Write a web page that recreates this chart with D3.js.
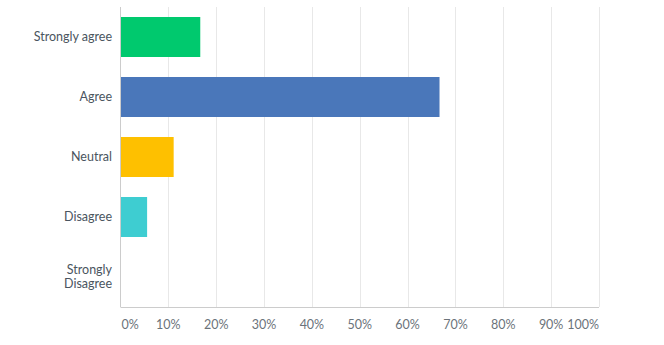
<!DOCTYPE html>
<html>
<head>
<meta charset="utf-8">
<script src="https://cdn.jsdelivr.net/npm/d3@7"></script>
<style>
  body { margin: 0; background: #fff; }
  svg text { font-family: Lato, sans-serif; }
</style>
</head>
<body>
<div id="chart"></div>
<script>
const categories = ["Strongly agree", "Agree", "Neutral", "Disagree", "Strongly Disagree"];
const values = [16.67, 66.67, 11.11, 5.56, 0];
const colors = ["#00c96e", "#4a77ba", "#fec000", "#3ecdd1", "#999999"];
const ticks = [0, 10, 20, 30, 40, 50, 60, 70, 80, 90, 100];

const width = 664,
    height = 345,
    margin = { top: 7, right: 65, bottom: 38, left: 120.5 };

const svg = d3
    .select("#chart")
    .append("svg")
    .attr("width", width)
    .attr("height", height);

const x = d3
    .scaleLinear()
    .domain([0, 100])
    .range([margin.left, width - margin.right]);

const y = d3
    .scaleBand()
    .domain(categories)
    .range([margin.top, height - margin.bottom])
    .paddingInner(1 / 3)
    .paddingOuter(1 / 6);

// gridlines
svg.append("g")
    .selectAll("line")
    .data(ticks.slice(1))
    .join("line")
    .attr("x1", (d) => Math.round(x(d)) + 0.5)
    .attr("x2", (d) => Math.round(x(d)) + 0.5)
    .attr("y1", margin.top)
    .attr("y2", height - margin.bottom)
    .attr("stroke", "#e8e8e8");

// bars
svg.append("g")
    .selectAll("rect")
    .data(values)
    .join("rect")
    .attr("x", x(0))
    .attr("y", (d, i) => y(categories[i]))
    .attr("width", (d) => x(d) - x(0))
    .attr("height", y.bandwidth())
    .attr("fill", (d, i) => colors[i]);

// axis lines
svg.append("line")
    .attr("x1", x(0)).attr("x2", x(0))
    .attr("y1", margin.top).attr("y2", height - margin.bottom)
    .attr("stroke", "#cccccc");
svg.append("line")
    .attr("x1", x(0)).attr("x2", x(100))
    .attr("y1", height - margin.bottom + 0.5).attr("y2", height - margin.bottom + 0.5)
    .attr("stroke", "#cccccc");

// x tick labels
svg.append("g")
    .selectAll("text")
    .data(ticks)
    .join("text")
    .attr("x", (d) => (d === 0 ? x(d) + 1 : x(d)))
    .attr("y", 329)
    .attr("text-anchor", (d) => (d === 0 ? "start" : d === 100 ? "end" : "middle"))
    .attr("font-size", "12.5px")
    .attr("fill", "#6b737a")
    .text((d) => d + "%");

// y labels
const labels = svg.append("g")
    .selectAll("text")
    .data(categories)
    .join("text")
    .attr("text-anchor", "end")
    .attr("font-size", "12.5px")
    .attr("fill", "#4a5560");

labels.each(function (d) {
    const t = d3.select(this);
    const cy = y(d) + y.bandwidth() / 2;
    const parts = d === "Strongly Disagree" ? ["Strongly", "Disagree"] : [d];
    parts.forEach((p, j) => {
        t.append("tspan")
            .attr("x", 112)
            .attr("y", cy + 4 + (j - (parts.length - 1) / 2) * 14.5)
            .text(p);
    });
});
</script>
</body>
</html>
